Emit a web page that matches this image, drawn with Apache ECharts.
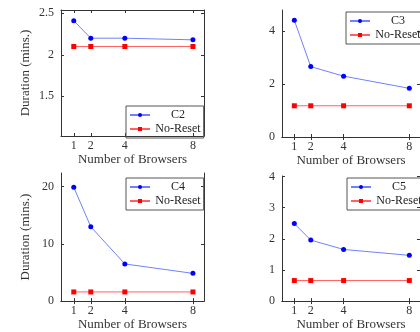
<!DOCTYPE html>
<html>
<head>
<meta charset="utf-8">
<script src="https://cdn.jsdelivr.net/npm/echarts@6/dist/echarts.min.js"></script>
<style>
  html, body { margin: 0; padding: 0; background: #fff; }
  #chart { width: 420px; height: 332px; }
</style>
</head>
<body>
<div id="chart"></div>
<script>
// number of browsers (x values)
const browsers = [1, 2, 4, 8];
const xTicks = [1, 2, 4, 8];

// durations (mins.)
const c2 = [2.41, 2.2, 2.2, 2.18];
const c3 = [4.41, 2.66, 2.3, 1.84];
const c4 = [19.9, 13.0, 6.5, 4.85];
const c5 = [2.49, 1.96, 1.66, 1.47];
const noReset2 = [2.1, 2.1, 2.1, 2.1];
const noReset3 = [1.18, 1.18, 1.18, 1.18];
const noReset4 = [1.6, 1.6, 1.6, 1.6];
const noReset5 = [0.66, 0.66, 0.66, 0.66];

const yTicks2 = [1.5, 2, 2.5];
const yTicks3 = [0, 2, 4];
const yTicks4 = [0, 10, 20];
const yTicks5 = [0, 1, 2, 3, 4];

const font = 'Liberation Serif';
const ink = '#333';

const panels = [
  { name: 'C2', vals: c2, base: noReset2, ticks: yTicks2, min: 1.02, max: 2.54, grid: { left: 61, top: 10, width: 143, height: 126 }, yName: true, legend: { left: 126, top: 106 } },
  { name: 'C3', vals: c3, base: noReset3, ticks: yTicks3, min: 0, max: 4.8, grid: { left: 282, top: 10, width: 144, height: 127 }, yName: false, legend: { left: 346, top: 12 } },
  { name: 'C4', vals: c4, base: noReset4, ticks: yTicks4, min: 0, max: 22.4, grid: { left: 61, top: 173, width: 143, height: 131 }, yName: true, legend: { left: 126, top: 178 } },
  { name: 'C5', vals: c5, base: noReset5, ticks: yTicks5, min: 0, max: 4.02, grid: { left: 282, top: 176, width: 144, height: 128 }, yName: false, legend: { left: 347, top: 178 } }
];

const pairs = (ys) => browsers.map((x, i) => [x, ys[i]]);

const grid = [], xAxis = [], yAxis = [], series = [], legend = [];

panels.forEach((p, g) => {
  grid.push(Object.assign({ show: false }, p.grid));
  const line = { show: true, lineStyle: { color: ink, width: 1 } };
  const tick = { show: true, inside: true, length: 3, lineStyle: { color: ink } };
  // bottom / left axes with labels
  xAxis.push({
    type: 'value', gridIndex: g, min: 0.25, max: 8.65, position: 'bottom',
    axisLine: line, splitLine: { show: false },
    axisTick: Object.assign({ customValues: xTicks }, tick),
    axisLabel: { customValues: xTicks, margin: 4, color: ink, fontFamily: font, fontSize: 12 },
    name: 'Number of Browsers', nameLocation: 'middle', nameGap: 16,
    nameTextStyle: { color: ink, fontFamily: font, fontSize: 13 }
  });
  yAxis.push({
    type: 'value', gridIndex: g, min: p.min, max: p.max, position: 'left',
    axisLine: line, splitLine: { show: false },
    axisTick: Object.assign({ customValues: p.ticks }, tick),
    axisLabel: { customValues: p.ticks, margin: 7, color: ink, fontFamily: font, fontSize: 12 },
    name: p.yName ? 'Duration (mins.)' : '', nameLocation: 'middle', nameGap: 29,
    nameTextStyle: { color: ink, fontFamily: font, fontSize: 13 }
  });
  // mirrored top / right axes (ticks only)
  xAxis.push({
    type: 'value', gridIndex: g, min: 0.25, max: 8.65, position: 'top',
    axisLine: line, splitLine: { show: false },
    axisTick: Object.assign({ customValues: xTicks }, tick),
    axisLabel: { show: false }
  });
  yAxis.push({
    type: 'value', gridIndex: g, min: p.min, max: p.max, position: 'right',
    axisLine: line, splitLine: { show: false },
    axisTick: Object.assign({ customValues: p.ticks }, tick),
    axisLabel: { show: false }
  });

  series.push({
    name: p.name, type: 'line', xAxisIndex: 2 * g, yAxisIndex: 2 * g,
    data: pairs(p.vals), symbol: 'circle', symbolSize: 5,
    itemStyle: { color: '#0000ff' }, lineStyle: { color: '#7080ff', width: 1 },
    animation: false
  });
  series.push({
    name: 'No-Reset', type: 'line', xAxisIndex: 2 * g, yAxisIndex: 2 * g,
    data: pairs(p.base), symbol: 'rect', symbolSize: 5,
    itemStyle: { color: '#ff0000' }, lineStyle: { color: '#ff6060', width: 1 },
    animation: false
  });

  legend.push({
    left: p.legend.left, top: p.legend.top, orient: 'vertical',
    data: [p.name, 'No-Reset'], selectedMode: false,
    itemWidth: 20, itemHeight: 5, itemGap: 2,
    padding: [3, 3, 3, 3],
    borderColor: '#555', borderWidth: 1, borderRadius: 0,
    formatter: (n) => '{t|' + n + '}',
    textStyle: {
      color: '#222', fontFamily: font, fontSize: 12,
      rich: { t: { width: 46, align: 'center', fontFamily: font, fontSize: 12, color: '#222' } }
    }
  });
});

const chart = echarts.init(document.getElementById('chart'), null, { renderer: 'canvas' });
chart.setOption({ animation: false, grid, xAxis, yAxis, series, legend });
</script>
</body>
</html>
